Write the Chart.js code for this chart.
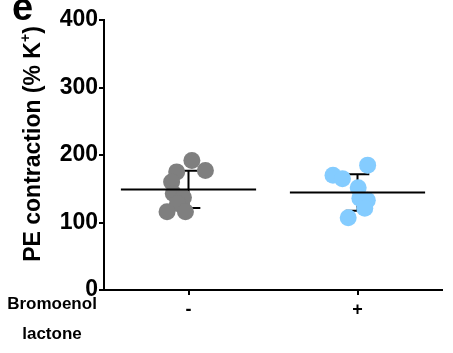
<!DOCTYPE html>
<html>
<head>
<meta charset="utf-8">
<script src="https://cdn.jsdelivr.net/npm/chart.js@4/dist/chart.umd.min.js"></script>
<style>
  html, body { margin: 0; padding: 0; background: #fff; }
  #wrap { width: 453px; height: 353px; position: relative; }
</style>
</head>
<body>
<div id="wrap"><canvas id="c" width="453" height="353"></canvas></div>
<script>
// ---- data ----
const categories = ['-', '+'];
const groupAxisLabel = ['Bromoenol', 'lactone'];
const yTickValues = [0, 100, 200, 300, 400];
const panelLabel = 'e';
const yTitleMain = 'PE contraction (% K';
const yTitleSup = '+';
const yTitleEnd = ')';

const ctrlValues = [192, 177, 175, 160, 143, 137, 128, 116, 116];
const ctrlOffsets = [0.02, 0.10, -0.07, -0.10, -0.09, -0.03, -0.065, -0.127, -0.018];
const bromoValues = [185, 170, 165, 151.5, 136, 133, 121, 107];
const bromoOffsets = [0.06, -0.145, -0.089, 0.004, 0.014, 0.058, 0.043, -0.055];

const groupMeans = [149, 144.5];
const groupSD = [27.5, 27];

// ---- build ----
const FONT = "'Liberation Sans', Arial, Helvetica, sans-serif";
const toPoints = (vals, offs, xc) => vals.map((v, i) => ({ x: xc + offs[i], y: v }));

const summaryPlugin = {
  id: 'summary',
  beforeDatasetsDraw(chart) {
    const { ctx, scales: { x, y } } = chart;
    ctx.save();
    ctx.strokeStyle = '#000';
    ctx.lineWidth = 2;
    groupMeans.forEach((m, i) => {
      const xc = x.getPixelForValue(i + 1);
      const top = y.getPixelForValue(m + groupSD[i]);
      const bot = y.getPixelForValue(m - groupSD[i]);
      const cap = x.getPixelForValue(i + 1 + 0.07) - xc;
      ctx.beginPath();
      ctx.moveTo(xc, top); ctx.lineTo(xc, bot);
      ctx.moveTo(xc - cap, top); ctx.lineTo(xc + cap, top);
      ctx.moveTo(xc - cap, bot); ctx.lineTo(xc + cap, bot);
      ctx.stroke();
    });
    ctx.restore();
  },
  afterDatasetsDraw(chart) {
    const { ctx, scales: { x, y } } = chart;
    ctx.save();
    ctx.strokeStyle = '#000';
    ctx.lineWidth = 2;
    groupMeans.forEach((m, i) => {
      const yp = y.getPixelForValue(m);
      ctx.beginPath();
      ctx.moveTo(x.getPixelForValue(i + 1 - 0.4), yp);
      ctx.lineTo(x.getPixelForValue(i + 1 + 0.4), yp);
      ctx.stroke();
    });
    ctx.restore();
  },
  afterDraw(chart) {
    const { ctx, chartArea } = chart;
    ctx.save();
    ctx.fillStyle = '#000';
    // panel label
    ctx.font = 'bold 38px ' + FONT;
    ctx.textAlign = 'left';
    ctx.textBaseline = 'alphabetic';
    ctx.fillText(panelLabel, 12, 20);
    // y-axis title with superscript
    ctx.translate(40, (chartArea.top + chartArea.bottom) / 2 - 11);
    ctx.rotate(-Math.PI / 2);
    const mainFont = 'bold 23px ' + FONT;
    const supFont = 'bold 14px ' + FONT;
    ctx.font = mainFont;
    const w1 = ctx.measureText(yTitleMain).width;
    const w3 = ctx.measureText(yTitleEnd).width;
    ctx.font = supFont;
    const w2 = ctx.measureText(yTitleSup).width;
    let sx = -(w1 + w2 + w3) / 2;
    ctx.font = mainFont;
    ctx.fillText(yTitleMain, sx, 0);
    ctx.font = supFont;
    ctx.fillText(yTitleSup, sx + w1, -10);
    ctx.font = mainFont;
    ctx.fillText(yTitleEnd, sx + w1 + w2, 0);
    ctx.restore();
    // x group label
    ctx.save();
    ctx.fillStyle = '#000';
    ctx.font = 'bold 17px ' + FONT;
    ctx.textAlign = 'center';
    ctx.textBaseline = 'middle';
    ctx.fillText(groupAxisLabel[0], 52, 304);
    ctx.fillText(groupAxisLabel[1], 52, 334);
    ctx.restore();
  }
};

new Chart(document.getElementById('c'), {
  type: 'scatter',
  data: {
    datasets: [
      { data: toPoints(ctrlValues, ctrlOffsets, 1), backgroundColor: '#7f7f7f', borderWidth: 0, pointRadius: 8.5, pointHoverRadius: 8.5 },
      { data: toPoints(bromoValues, bromoOffsets, 2), backgroundColor: '#84ccff', borderWidth: 0, pointRadius: 8.5, pointHoverRadius: 8.5 }
    ]
  },
  options: {
    responsive: false,
    animation: false,
    events: [],
    layout: { padding: { top: 20, right: 11, left: 0, bottom: 0 } },
    plugins: { legend: { display: false }, tooltip: { enabled: false } },
    scales: {
      x: {
        type: 'linear',
        min: 0.5, max: 2.5,
        afterBuildTicks: (s) => { s.ticks = categories.map((c, i) => ({ value: i + 1 })); },
        afterFit: (s) => { s.height = 63; },
        ticks: {
          callback: (v) => categories[Math.round(v) - 1] ?? '',
          color: '#000',
          font: { family: FONT, size: 18, weight: 'bold' },
          padding: 4,
          maxRotation: 0
        },
        grid: { drawOnChartArea: false, drawTicks: true, tickLength: 5, color: '#000', lineWidth: 2 },
        border: { display: true, color: '#000', width: 2 }
      },
      y: {
        min: 0, max: 400,
        afterBuildTicks: (s) => { s.ticks = yTickValues.map(v => ({ value: v })); },
        afterFit: (s) => { s.width = 104; },
        ticks: {
          color: '#000',
          font: { family: FONT, size: 23, weight: 'bold' },
          padding: 1
        },
        grid: { drawOnChartArea: false, drawTicks: true, tickLength: 5, color: '#000', lineWidth: 2 },
        border: { display: true, color: '#000', width: 2 }
      }
    }
  },
  plugins: [summaryPlugin]
});
</script>
</body>
</html>
